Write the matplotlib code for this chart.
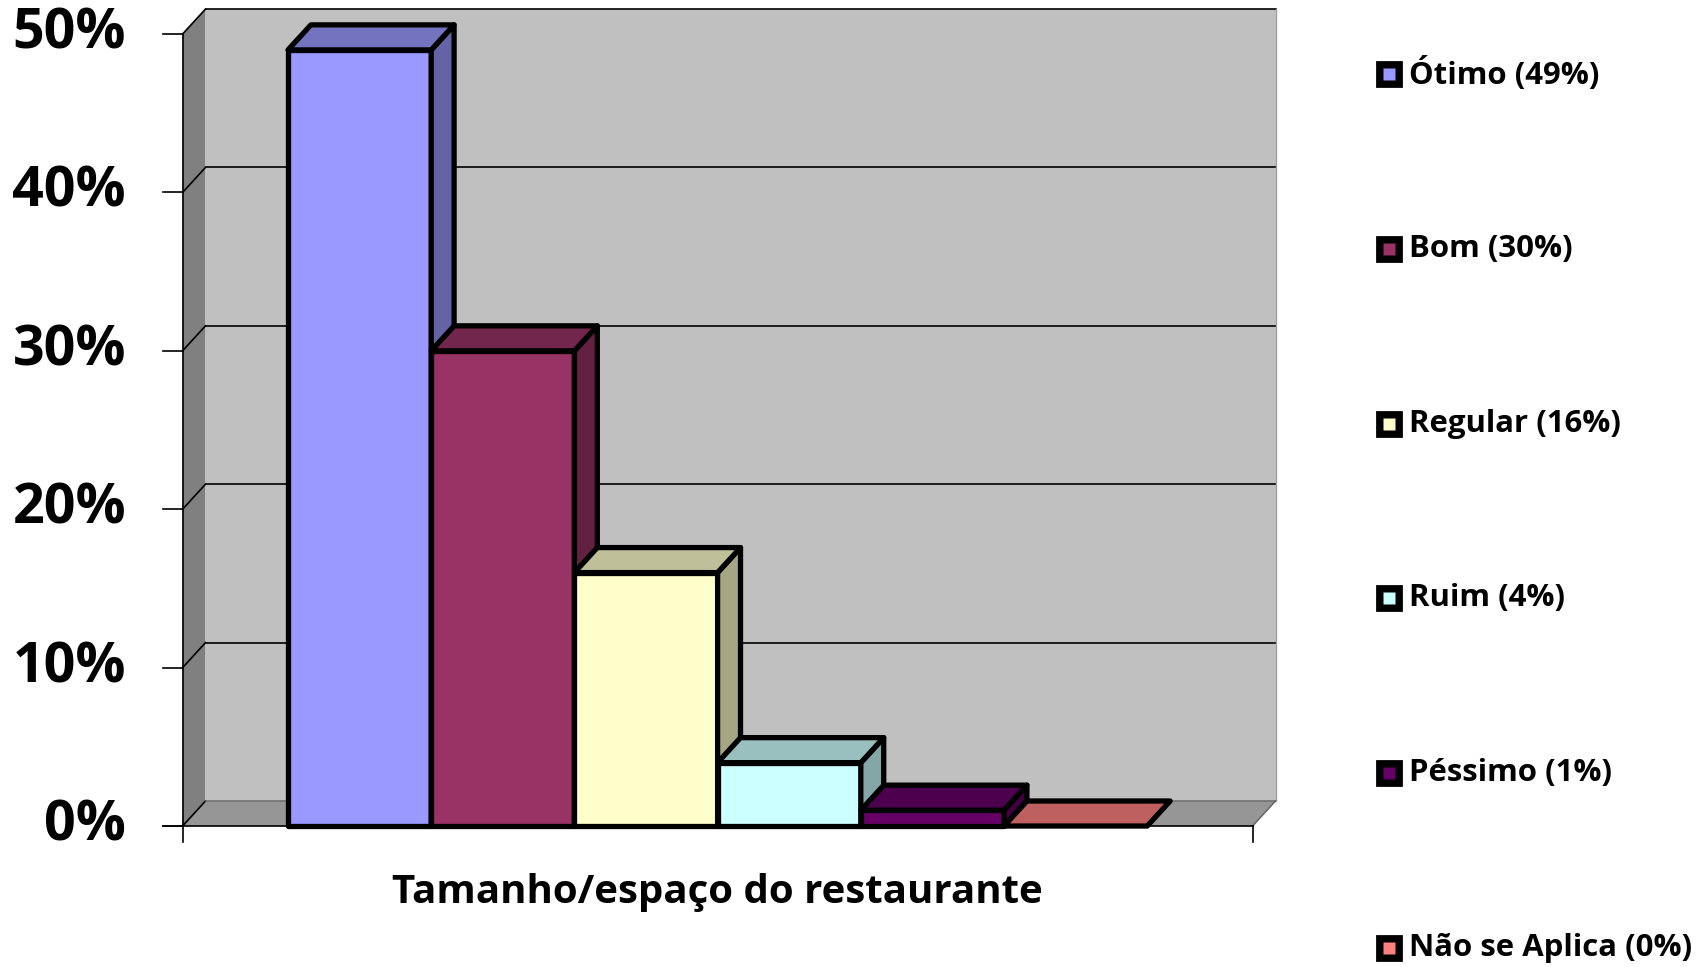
import numpy as np
import matplotlib.pyplot as plt
from matplotlib.patches import Polygon
import matplotlib.colors as mcolors

# data
categories = ['Ótimo', 'Bom', 'Regular', 'Ruim', 'Péssimo', 'Não se Aplica']
values = [49, 30, 16, 4, 1, 0]
colors = ['#9999FF', '#993366', '#FFFFCC', '#CCFFFF', '#660066', '#FF8080']
y_ticks = [0, 10, 20, 30, 40, 50]
x_label = 'Tamanho/espaço do restaurante'

plt.rcParams['font.family'] = ['Open Sans', 'DejaVu Sans']
plt.rcParams['font.weight'] = 'bold'


def shade(c, f):
    r, g, b = mcolors.to_rgb(c)
    return (r * f, g * f, b * f)


fig = plt.figure(figsize=(16.96, 9.67), dpi=100)
ax = fig.add_axes([0, 0, 1, 1])
ax.set_xlim(-2.011, 9.832)
ax.set_ylim(-8.90, 52.15)
ax.axis('off')

# fake 3d depth (data units) and category gap
dx, dy = 0.16, 1.58
gap = 0.736
xl, xr = -gap, len(values) + gap
ymax = y_ticks[-1]

# walls and floor
ax.add_patch(Polygon([(xl + dx, dy), (xr + dx, dy), (xr + dx, ymax + dy), (xl + dx, ymax + dy)],
                     fc='#C0C0C0', ec='none', zorder=1))
ax.add_patch(Polygon([(xl, 0), (xl + dx, dy), (xl + dx, ymax + dy), (xl, ymax)],
                     fc='#808080', ec='none', zorder=1))
ax.add_patch(Polygon([(xl, 0), (xr, 0), (xr + dx, dy), (xl + dx, dy)],
                     fc='#969696', ec='none', zorder=1))

# gridlines on back and side wall
for t in y_ticks:
    ax.plot([xl, xl + dx], [t, t + dy], color='black', lw=1.2, zorder=2)
    gc = '#707070' if t == 0 else 'black'
    ax.plot([xl + dx, xr + dx], [t + dy, t + dy], color=gc, lw=1.2, zorder=2)
ax.plot([xr + dx, xr + dx], [dy, ymax + dy], color='#A0A0A0', lw=1, zorder=2)
ax.plot([xr, xr + dx], [0, dy], color='#606060', lw=1, zorder=2)

# value axis
ax.plot([xl, xl], [0, ymax], color='black', lw=1.2, zorder=2)
for t in y_ticks:
    ax.plot([xl - 0.14, xl], [t, t], color='black', lw=1.2, zorder=2)
    ax.text(xl - 0.395, t, f'{t}%', ha='right', va='center', fontsize=40, fontweight='bold')

# category axis
ax.plot([xl - 0.14, xr], [0, 0], color='black', lw=1.2, zorder=2)
for xt in (xl, xr):
    ax.plot([xt, xt], [0, -1.0], color='black', lw=1.2, zorder=2)
ax.text(len(values) / 2, -4.2, x_label, ha='center', va='center', fontsize=29, fontweight='bold')

# 3d bars
for i, (v, c) in enumerate(zip(values, colors)):
    x0, x1 = i, i + 1
    z = 3 + i
    kw = dict(ec='black', lw=3.8, joinstyle='round', zorder=z)
    if v > 0:
        ax.add_patch(Polygon([(x0, 0), (x1, 0), (x1, v), (x0, v)], fc=c, **kw))
        ax.add_patch(Polygon([(x1, 0), (x1 + dx, dy), (x1 + dx, v + dy), (x1, v)],
                             fc=shade(c, 0.65), **kw))
    ax.add_patch(Polygon([(x0, v), (x1, v), (x1 + dx, v + dy), (x0 + dx, v + dy)],
                         fc=shade(c, 0.75), **kw))

# legend
leg_x, leg_y, leg_step = 0.819, 0.9235, 0.1808
for i, (cat, v, c) in enumerate(zip(categories, values, colors)):
    y = leg_y - i * leg_step
    ax.plot([leg_x], [y], marker='s', ms=17, mfc='black', mec='black', mew=2,
            transform=fig.transFigure, clip_on=False)
    ax.plot([leg_x], [y], marker='s', ms=8, mfc=c, mec='none',
            transform=fig.transFigure, clip_on=False)
    ax.text(leg_x + 0.0118, y, f'{cat} ({v}%)', transform=fig.transFigure,
            ha='left', va='center', fontsize=22.4, fontweight='bold')

fig.savefig('out.png', dpi=100, facecolor='white')
